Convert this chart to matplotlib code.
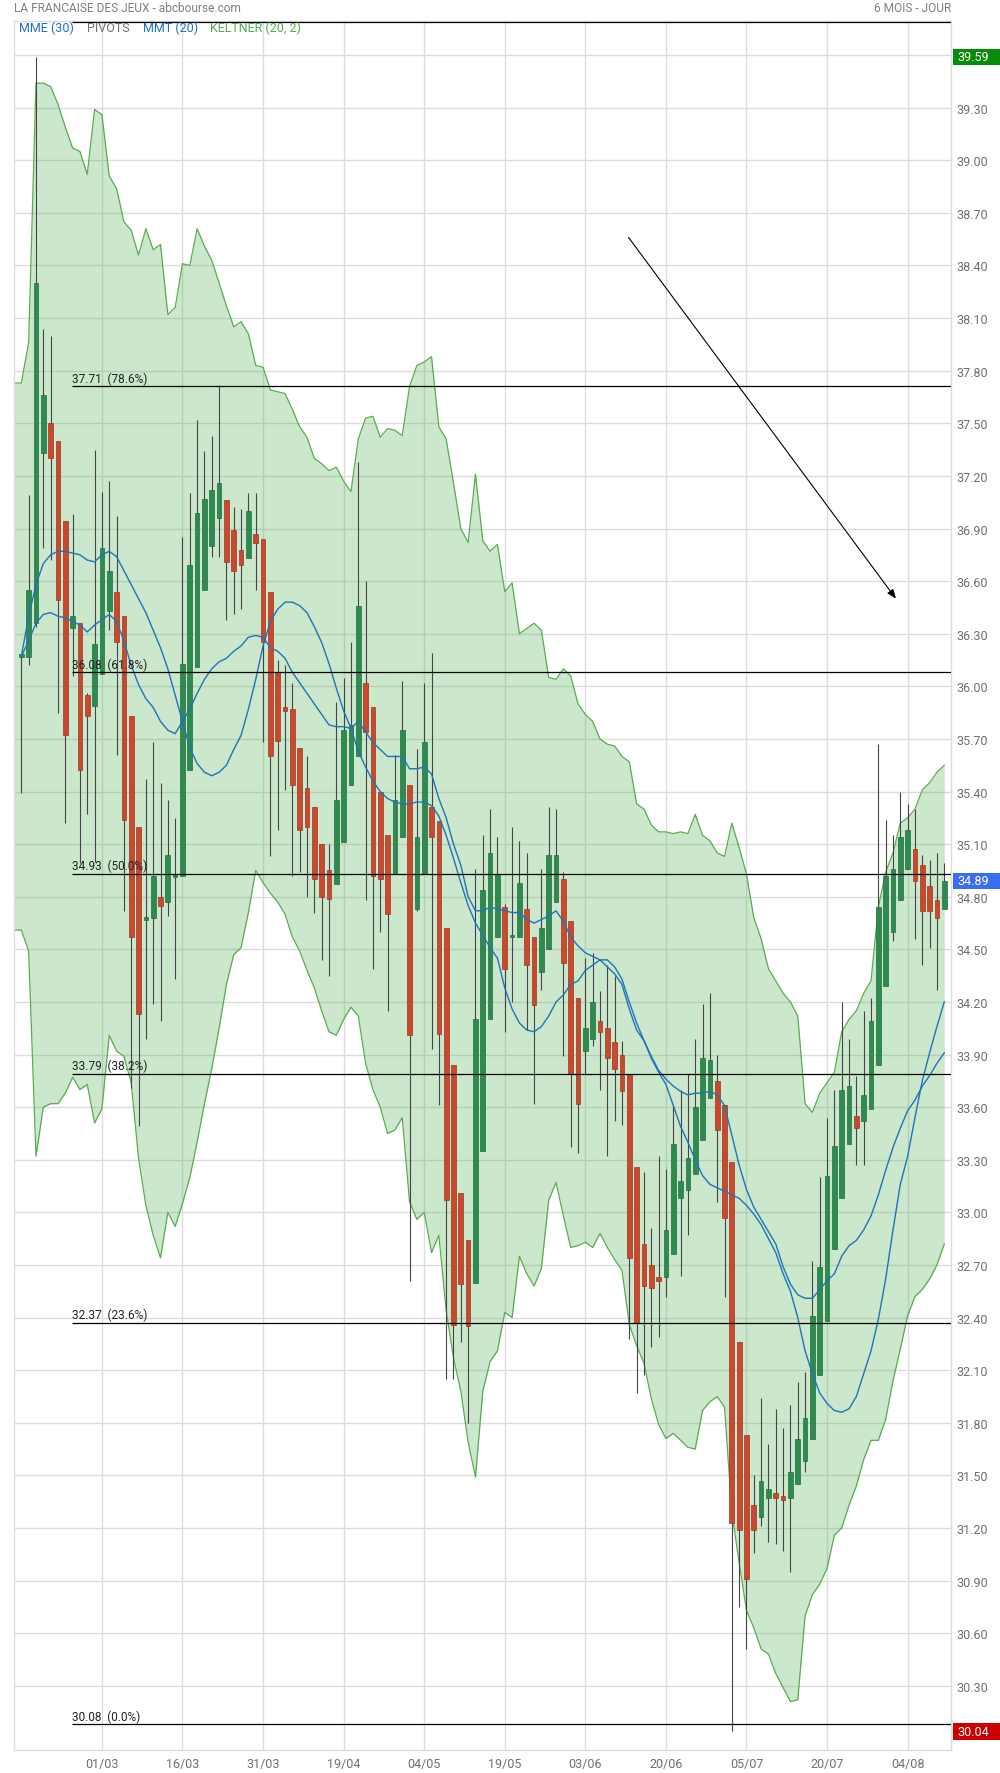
import matplotlib
matplotlib.use('Agg')
import matplotlib.pyplot as plt
import matplotlib.transforms as mtransforms
from matplotlib.patches import Rectangle
import numpy as np

plt.rcParams['font.family'] = ['Roboto', 'DejaVu Sans']

# bougies journalieres
opens = [36.17, 36.17, 36.36, 37.33, 37.50, 37.40, 36.94, 36.33, 36.36, 35.95,
         35.89, 36.07, 36.43, 36.54, 36.40, 35.83, 35.20, 34.67, 34.68, 34.80,
         34.77, 34.91, 34.92, 35.52, 36.11, 36.55, 36.80, 36.96, 37.06, 36.89,
         36.78, 36.73, 36.87, 36.84, 36.54, 36.08, 35.88, 35.87, 35.65, 35.42,
         35.31, 35.10, 34.95, 34.87, 35.11, 35.44, 35.60, 36.02, 35.88, 35.40,
         35.15, 34.93, 35.14, 35.44, 34.73, 34.93, 35.31, 35.23, 34.62, 33.84,
         33.11, 32.84, 32.60, 33.35, 34.10, 34.57, 34.74, 34.57, 34.57, 34.73,
         34.57, 34.37, 34.50, 34.77, 34.90, 34.66, 34.22, 33.92, 33.99, 34.09,
         34.05, 33.97, 33.90, 33.79, 33.26, 32.82, 32.70, 32.63, 32.63, 32.76,
         33.08, 33.13, 33.22, 33.41, 33.65, 33.75, 33.61, 33.29, 32.26, 31.73,
         31.33, 31.26, 31.37, 31.40, 31.38, 31.37, 31.45, 31.58, 31.71, 32.07,
         32.38, 32.79, 33.08, 33.39, 33.55, 33.52, 33.59, 33.84, 34.29, 34.60,
         34.78, 34.96, 35.07, 34.98, 34.86, 34.78, 34.73]
highs = [36.18, 37.09, 39.59, 38.04, 38.00, 37.40, 36.94, 36.98, 36.36, 35.96,
         37.35, 37.11, 37.17, 36.97, 36.40, 35.83, 35.20, 35.47, 35.68, 35.45,
         35.35, 35.25, 36.85, 37.10, 37.52, 37.34, 37.43, 37.72, 37.06, 37.02,
         37.01, 37.10, 37.10, 36.84, 36.54, 36.15, 36.12, 36.02, 35.65, 35.60,
         35.31, 35.10, 35.10, 35.91, 36.05, 36.25, 37.28, 36.60, 35.88, 35.40,
         35.15, 35.61, 36.03, 35.44, 35.64, 36.02, 36.19, 35.23, 34.62, 33.84,
         33.11, 32.84, 34.96, 35.15, 35.30, 35.14, 34.76, 35.20, 35.12, 35.05,
         34.57, 34.96, 35.31, 35.30, 34.94, 34.66, 34.22, 34.45, 34.48, 34.26,
         34.41, 34.35, 33.98, 33.79, 33.26, 33.23, 32.91, 33.32, 33.25, 33.61,
         33.70, 33.79, 33.99, 34.19, 34.25, 33.90, 33.61, 33.29, 32.26, 31.73,
         31.50, 31.94, 31.68, 31.88, 31.77, 31.90, 32.03, 32.09, 32.72, 33.20,
         33.54, 33.70, 34.20, 33.99, 33.78, 34.15, 34.22, 35.67, 35.24, 35.15,
         35.40, 35.33, 35.30, 35.04, 35.01, 35.05, 34.99]
lows = [35.39, 36.12, 36.34, 36.79, 36.72, 35.85, 35.22, 36.06, 34.99, 35.27,
        35.00, 36.07, 36.32, 35.61, 34.72, 33.71, 33.49, 33.99, 34.19, 34.09,
        34.69, 34.33, 34.92, 35.52, 36.11, 36.55, 36.74, 36.74, 36.38, 36.41,
        36.44, 36.73, 36.55, 35.68, 35.03, 35.18, 35.41, 34.92, 34.94, 34.80,
        34.71, 34.44, 34.35, 34.87, 35.11, 35.44, 35.60, 34.78, 34.39, 34.60,
        34.15, 34.93, 35.14, 32.61, 34.72, 34.93, 33.93, 33.61, 32.05, 32.05,
        32.26, 31.80, 32.60, 33.35, 34.10, 34.57, 34.03, 34.20, 34.57, 34.04,
        33.62, 34.27, 34.50, 34.77, 33.89, 33.37, 33.34, 33.79, 33.95, 33.70,
        33.32, 33.52, 33.50, 32.28, 31.97, 32.07, 32.23, 32.29, 32.52, 32.76,
        32.64, 32.87, 33.22, 33.41, 33.65, 33.06, 32.52, 30.04, 30.75, 30.51,
        31.06, 31.21, 31.12, 31.11, 31.07, 30.95, 31.45, 31.52, 31.71, 32.07,
        32.38, 32.79, 33.08, 33.39, 33.27, 33.27, 33.59, 33.84, 34.29, 34.55,
        34.78, 34.96, 34.56, 34.41, 34.51, 34.27, 34.73]
closes = [36.17, 36.55, 38.30, 37.66, 37.30, 36.49, 35.72, 36.40, 35.52, 35.83,
          36.24, 36.79, 36.66, 36.25, 35.24, 34.57, 34.13, 34.68, 34.92, 34.75,
          35.04, 34.92, 36.13, 36.69, 36.99, 37.07, 37.12, 37.16, 36.71, 36.66,
          36.69, 37.00, 36.82, 36.25, 35.60, 35.69, 35.86, 35.44, 35.18, 35.20,
          34.90, 34.80, 34.79, 35.35, 35.75, 35.78, 36.46, 35.74, 34.92, 34.90,
          34.70, 35.35, 35.75, 34.01, 35.14, 35.68, 35.14, 34.02, 33.07, 32.36,
          32.59, 32.35, 34.10, 34.84, 35.05, 34.93, 34.39, 34.58, 34.88, 34.41,
          34.18, 34.62, 35.04, 35.04, 34.42, 33.79, 33.62, 34.05, 34.20, 34.03,
          33.88, 33.82, 33.69, 32.74, 32.37, 32.58, 32.57, 32.61, 32.90, 33.39,
          33.18, 33.31, 33.60, 33.88, 33.87, 33.47, 32.97, 31.23, 31.19, 30.91,
          31.19, 31.47, 31.42, 31.37, 31.36, 31.52, 31.71, 31.83, 32.41, 32.69,
          33.21, 33.38, 33.70, 33.72, 33.48, 33.67, 34.09, 34.74, 34.92, 34.96,
          35.14, 35.18, 34.89, 34.72, 34.72, 34.68, 34.89]

# canal de Keltner (20, 2), commence une seance avant la premiere bougie
keltner_up = [37.73, 37.73, 37.96, 39.44, 39.44, 39.42, 39.32, 39.19, 39.07, 39.05, 38.92,
              39.29, 39.26, 38.91, 38.84, 38.65, 38.60, 38.46, 38.61, 38.49, 38.52,
              38.12, 38.16, 38.41, 38.40, 38.61, 38.51, 38.43, 38.30, 38.17, 38.05,
              38.08, 38.01, 37.83, 37.82, 37.69, 37.68, 37.67, 37.58, 37.48, 37.42,
              37.30, 37.27, 37.23, 37.25, 37.17, 37.11, 37.41, 37.53, 37.54, 37.42,
              37.47, 37.46, 37.43, 37.71, 37.83, 37.85, 37.88, 37.48, 37.41, 37.16,
              36.90, 36.82, 37.21, 36.83, 36.77, 36.81, 36.54, 36.59, 36.30, 36.33,
              36.36, 36.32, 36.05, 36.04, 36.10, 36.06, 35.90, 35.84, 35.80, 35.70,
              35.67, 35.66, 35.60, 35.57, 35.33, 35.30, 35.21, 35.17, 35.17, 35.16,
              35.17, 35.16, 35.27, 35.15, 35.12, 35.05, 35.03, 35.22, 35.08, 34.93,
              34.68, 34.56, 34.39, 34.32, 34.25, 34.20, 34.12, 33.62, 33.57, 33.68,
              33.74, 33.80, 34.03, 34.10, 34.15, 34.25, 34.32, 34.74, 34.94, 35.05,
              35.22, 35.25, 35.30, 35.41, 35.45, 35.51, 35.55]
keltner_low = [34.61, 34.61, 34.49, 33.32, 33.60, 33.62, 33.62, 33.68, 33.77, 33.70, 33.73,
               33.51, 33.59, 34.01, 33.92, 33.89, 33.74, 33.31, 33.04, 32.87, 32.74,
               33.00, 32.92, 33.05, 33.20, 33.40, 33.62, 33.82, 34.05, 34.30, 34.47,
               34.51, 34.71, 34.95, 34.88, 34.82, 34.77, 34.70, 34.57, 34.49, 34.38,
               34.28, 34.15, 34.03, 34.01, 34.10, 34.17, 34.12, 33.85, 33.70, 33.60,
               33.45, 33.47, 33.54, 33.06, 32.96, 33.00, 32.77, 32.87, 32.44, 32.17,
               31.98, 31.69, 31.49, 31.98, 32.15, 32.21, 32.43, 32.40, 32.75, 32.65,
               32.58, 32.68, 33.07, 33.17, 32.98, 32.80, 32.81, 32.83, 32.80, 32.88,
               32.80, 32.73, 32.67, 32.36, 32.24, 32.14, 31.94, 31.79, 31.71, 31.74,
               31.70, 31.66, 31.65, 31.87, 31.92, 31.95, 31.89, 31.29, 31.00, 30.73,
               30.63, 30.51, 30.48, 30.37, 30.29, 30.21, 30.22, 30.70, 30.82, 30.88,
               30.97, 31.16, 31.20, 31.33, 31.44, 31.59, 31.70, 31.70, 31.82, 32.04,
               32.22, 32.41, 32.52, 32.56, 32.62, 32.70, 32.82]

mmt20 = [36.17, 36.40, 36.58, 36.70, 36.75, 36.77, 36.77, 36.76, 36.75, 36.72,
         36.71, 36.75, 36.77, 36.74, 36.66, 36.58, 36.50, 36.42, 36.32, 36.22,
         36.10, 35.95, 35.80, 35.65, 35.56, 35.51, 35.49, 35.51, 35.55, 35.64,
         35.72, 35.87, 36.04, 36.23, 36.37, 36.44, 36.48, 36.48, 36.46, 36.42,
         36.34, 36.25, 36.13, 35.99, 35.86, 35.76, 35.63, 35.54, 35.46, 35.40,
         35.36, 35.34, 35.33, 35.33, 35.34, 35.34, 35.32, 35.26, 35.15, 35.02,
         34.88, 34.75, 34.65, 34.58, 34.51, 34.45, 34.28, 34.16, 34.08, 34.04,
         34.03, 34.06, 34.12, 34.20, 34.24, 34.30, 34.32, 34.38, 34.41, 34.44,
         34.44, 34.40, 34.33, 34.20, 34.08, 33.98, 33.88, 33.80, 33.73, 33.61,
         33.49, 33.40, 33.30, 33.21, 33.16, 33.14, 33.12, 33.10, 33.08, 33.04,
         32.99, 32.93, 32.85, 32.77, 32.65, 32.55, 32.40, 32.21, 32.08, 31.97,
         31.91, 31.87, 31.86, 31.88, 31.95, 32.08, 32.21, 32.39, 32.62, 32.90,
         33.16, 33.32, 33.54, 33.75, 33.91, 34.06, 34.20]
mme30 = [36.17, 36.26, 36.36, 36.41, 36.42, 36.40, 36.39, 36.37, 36.35, 36.31,
         36.35, 36.38, 36.41, 36.37, 36.26, 36.12, 36.01, 35.93, 35.88, 35.80,
         35.75, 35.73, 35.80, 35.87, 35.96, 36.04, 36.10, 36.14, 36.16, 36.20,
         36.23, 36.28, 36.29, 36.28, 36.22, 36.20, 36.16, 36.08, 36.02, 35.96,
         35.90, 35.84, 35.78, 35.77, 35.77, 35.76, 35.80, 35.74, 35.68, 35.64,
         35.60, 35.60, 35.60, 35.53, 35.53, 35.54, 35.50, 35.36, 35.25, 35.10,
         34.98, 34.80, 34.72, 34.72, 34.74, 34.73, 34.72, 34.71, 34.71, 34.67,
         34.65, 34.67, 34.69, 34.72, 34.66, 34.57, 34.52, 34.48, 34.46, 34.44,
         34.40, 34.36, 34.30, 34.16, 34.04, 33.98, 33.89, 33.81, 33.76, 33.72,
         33.69, 33.67, 33.68, 33.68, 33.69, 33.67, 33.61, 33.44, 33.27, 33.13,
         33.03, 32.96, 32.89, 32.82, 32.69, 32.59, 32.53, 32.51, 32.51, 32.56,
         32.61, 32.65, 32.75, 32.81, 32.84, 32.90, 32.98, 33.10, 33.24, 33.37,
         33.48, 33.58, 33.64, 33.72, 33.78, 33.85, 33.91]

tick_idx = [11, 22, 33, 44, 55, 66, 77, 88, 99, 110, 121]
tick_labels = ['01/03', '16/03', '31/03', '19/04', '04/05', '19/05',
               '03/06', '20/06', '05/07', '20/07', '04/08']

fib_levels = [39.79, 37.71, 36.08, 34.93, 33.79, 32.37, 30.08]
fib_pcts = ['100.0%', '78.6%', '61.8%', '50.0%', '38.2%', '23.6%', '0.0%']
fib_start = 6.9

trend_start = (82.9, 38.56)
trend_end = (119.4, 36.50)

price_high = 39.59
price_last = 34.89
price_low = 30.04

W, H = 1000, 1774
fig = plt.figure(figsize=(W / 100, H / 100), dpi=100)
ax = fig.add_axes([14.3 / W, 1 - 1751 / H, (951 - 14.3) / W, (1751 - 21.7) / H])
ax.set_xlim(-0.96, 126.92)
ax.set_ylim(29.934, 39.796)

o = np.array(opens); h = np.array(highs); l = np.array(lows); c = np.array(closes)
x = np.arange(len(o))
kx = np.arange(-1, len(o))

# grille
ax.set_xticks(tick_idx)
ax.set_xticklabels(tick_labels)
ax.set_yticks(np.round(np.arange(30.30, 39.61, 0.30), 2))
ax.yaxis.set_major_formatter(matplotlib.ticker.FormatStrFormatter('%.2f'))
ax.grid(True, color='#dcdcdc', lw=1.0, zorder=0)
ax.set_axisbelow(True)
for s in ax.spines.values():
    s.set_color('#dcdcdc')
    s.set_linewidth(1.0)
ax.tick_params(axis='both', length=0, colors='#707070', labelsize=9)
ax.tick_params(axis='y', left=False, labelleft=False, right=False, labelright=True, pad=4)
ax.tick_params(axis='x', pad=5)

# Keltner
ax.fill_between(kx, keltner_low, keltner_up, color='#4caf50', alpha=0.29, lw=0, zorder=1)
ax.plot(kx, keltner_up, color='#5aab52', lw=0.9, zorder=2)
ax.plot(kx, keltner_low, color='#5aab52', lw=0.9, zorder=2)

# bougies
up = c >= o
body_col = np.where(up, '#2e8b50', '#c9492f')
edge_col = np.where(up, '#236e3e', '#9e3522')
ax.vlines(x, l, h, color='#454545', lw=0.8, zorder=3)
ax.bar(x, np.maximum(np.abs(c - o), 0.012), bottom=np.minimum(o, c), width=0.64,
       color=body_col, edgecolor=edge_col, linewidth=0.5, zorder=4)

# moyennes mobiles
ax.plot(x, mmt20, color='#1f74b8', lw=1.0, zorder=5)
ax.plot(x, mme30, color='#1f74b8', lw=1.0, zorder=5)

# retracements de Fibonacci
for lev, pct in zip(fib_levels, fib_pcts):
    ax.hlines(lev, fib_start, 126.92, color='black', lw=0.9, zorder=6)
    ax.annotate(f'{lev:.2f}  ({pct})', (fib_start, lev), xytext=(0, 1.2),
                textcoords='offset points', ha='left', va='bottom', fontsize=8.5,
                color='#222222', zorder=6, annotation_clip=False, clip_on=True)

# ligne de tendance
ax.annotate('', xy=trend_end, xytext=trend_start,
            arrowprops=dict(arrowstyle='-|>,head_length=0.55,head_width=0.22',
                            color='black', lw=0.8, shrinkA=0, shrinkB=0), zorder=7)

# etiquettes de prix a droite
trans = mtransforms.blended_transform_factory(fig.transFigure, ax.transData)
for val, col in [(price_high, '#0a8a0a'), (price_last, '#3a6df0'), (price_low, '#cc0000')]:
    fig.add_artist(Rectangle((953 / W, val - 0.047), 47 / W, 0.094, transform=trans,
                             facecolor=col, edgecolor='none', zorder=5))
    fig.text(957 / W, val, f'{val:.2f}', transform=trans, ha='left', va='center',
             color='white', fontsize=9, zorder=6)

# titres et legende
fig.text(14 / W, 1 - 8 / H, 'LA FRANCAISE DES JEUX - abcbourse.com', ha='left', va='center',
         color='#808080', fontsize=8.6)
fig.text(951 / W, 1 - 8 / H, '6 MOIS - JOUR', ha='right', va='center', color='#808080', fontsize=8.6)
for px, txt, col in [(19, 'MME (30)', '#1a6fd0'), (87, 'PIVOTS', '#707070'),
                     (143, 'MMT (20)', '#1a6fd0'), (210, 'KELTNER (20, 2)', '#4caf50')]:
    fig.text(px / W, 1 - 28.5 / H, txt, ha='left', va='center', color=col, fontsize=9)

fig.savefig('out.png', dpi=100, facecolor='white')
